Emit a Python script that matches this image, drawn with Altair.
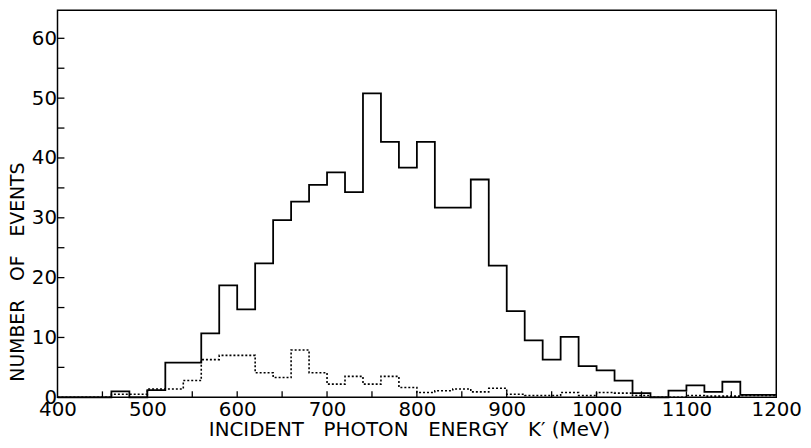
import altair as alt
import pandas as pd

# bin edges (20 MeV bins from 400 to 1200)
edges = list(range(400, 1201, 20))

# solid histogram (per bin, 40 bins)
solid = [0, 0, 0, 1.0, 0, 1.2, 5.8, 5.8, 10.7, 18.7,
         14.7, 22.4, 29.6, 32.7, 35.5, 37.6, 34.3, 50.8, 42.7, 38.4,
         42.7, 31.7, 31.7, 36.4, 22.0, 14.4, 9.5, 6.3, 10.1, 5.2,
         4.5, 2.8, 0.7, 0, 1.1, 2.0, 0.9, 2.6, 0.4, 0.4]

# dotted histogram
dotted = [0, 0, 0, 0.5, 0.5, 1.4, 1.4, 2.8, 6.3, 7.0,
          7.0, 4.1, 3.3, 7.9, 4.1, 2.2, 3.5, 2.2, 3.5, 1.65,
          0.8, 1.1, 1.4, 0.9, 1.5, 0.5, 0.3, 0.3, 0.8, 0.3,
          0.8, 0.7, 0.3, 0, 0, 0.3, 0.2, 0.2, 0.3, 0.3]

x_ticks = list(range(450, 1200, 50))
y_ticks = list(range(5, 65, 5))
x_labels = list(range(400, 1201, 100))
y_labels = list(range(0, 61, 10))

W, H = 726, 391
FONT = "DejaVu Sans"

df_solid = pd.DataFrame({"k": edges, "n": solid + [solid[-1]]})
df_dot = pd.DataFrame({"k": edges, "n": dotted + [dotted[-1]]})
df_xt = pd.DataFrame({"k": x_ticks})
df_yt = pd.DataFrame({"n": y_ticks})

xscale = alt.Scale(domain=[400, 1200], nice=False, zero=False)
yscale = alt.Scale(domain=[0, 64.7], nice=False)

GAP = "\u2003"

xaxis = alt.Axis(values=x_labels, format="d", ticks=False, domain=False, grid=False,
                 labelFont=FONT, labelFontSize=20, labelColor="black",
                 labelPadding=2, labelFlush=False,
                 title="INCIDENT" + GAP + "PHOTON" + GAP + "ENERGY" + GAP + "K\u2032 (MeV)",
                 titleFont=FONT, titleFontSize=20, titleFontWeight="normal",
                 titleColor="black", titleX=355, titleY=23)
yaxis = alt.Axis(values=y_labels, format="d", ticks=False, domain=False, grid=False,
                 labelFont=FONT, labelFontSize=20, labelColor="black",
                 labelPadding=1, labelFlush=False,
                 title="NUMBER" + GAP + "OF" + GAP + "EVENTS",
                 titleFont=FONT, titleFontSize=19, titleFontWeight="normal",
                 titleColor="black", titleX=-30, titleY=264)

line_solid = alt.Chart(df_solid).mark_line(
    interpolate="step-after", color="black", strokeWidth=1.8
).encode(
    x=alt.X("k:Q", scale=xscale, axis=xaxis),
    y=alt.Y("n:Q", scale=yscale, axis=yaxis),
)

line_dot = alt.Chart(df_dot).mark_line(
    interpolate="step-after", color="black", strokeWidth=1.6, strokeDash=[2, 2]
).encode(
    x=alt.X("k:Q", scale=xscale, axis=xaxis),
    y=alt.Y("n:Q", scale=yscale, axis=yaxis),
)

xt = alt.Chart(df_xt).mark_rule(color="black", strokeWidth=1.3).encode(
    x=alt.X("k:Q", scale=xscale, axis=xaxis),
    y=alt.value(H),
    y2=alt.value(H - 6),
)

yt = alt.Chart(df_yt).mark_rule(color="black", strokeWidth=1.3).encode(
    y=alt.Y("n:Q", scale=yscale, axis=yaxis),
    x=alt.value(0),
    x2=alt.value(7),
)

chart = alt.layer(line_solid, line_dot, xt, yt).properties(
    width=W, height=H,
    autosize=alt.AutoSizeParams(type="none"),
    padding={"left": 50, "top": 0, "right": 27, "bottom": 49},
    background="white",
).configure_view(stroke="black", strokeWidth=1.5)

chart.save("out.html", embed_options={"renderer": "svg", "actions": False})
